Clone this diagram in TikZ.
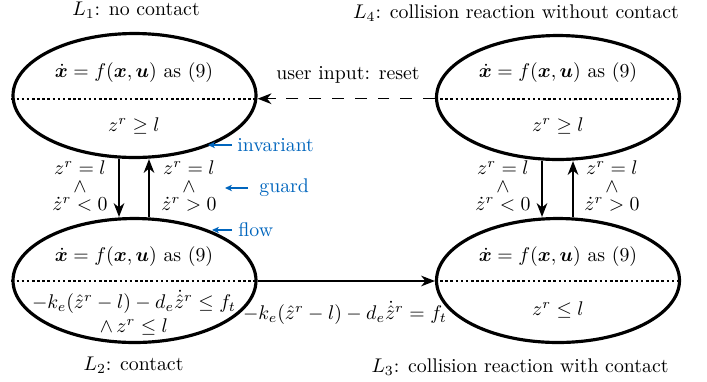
\documentclass[tikz,border=0pt]{standalone}
\usepackage{amsmath,bm}
\usetikzlibrary{arrows.meta,calc,shapes.geometric}
\definecolor{tumblue}{RGB}{0,101,189}
\begin{document}
\begin{tikzpicture}[x=0.505pt,y=-0.505pt,
  loc/.style={ellipse,draw,line width=1.6pt,minimum width=122.7pt,minimum height=62.6pt,inner sep=0pt},
  sepline/.style={line width=0.9pt,dash pattern=on 1.3pt off 1.3pt},
  arr/.style={line width=0.8pt,-{Stealth[length=7pt,width=5.4pt,inset=2.2pt]}},
  dasharr/.style={line width=0.8pt,dash pattern=on 6pt off 5.5pt,-{Stealth[length=7pt,width=5.4pt,inset=2.2pt]}},
  guardlbl/.style={align=center,inner sep=0pt},
  note/.style={text=tumblue,inner sep=0pt,anchor=west},
  notearr/.style={draw=tumblue,line width=0.6pt,-{Stealth[length=3.5pt,width=3.2pt,inset=1pt]}}
]
\useasboundingbox (0,0) rectangle (707,381);

% locations
\node[loc] (L1) at (134.5,95.5) {};
\node[loc] (L4) at (558,97.5) {};
\node[loc] (L2) at (134.5,280.5) {};
\node[loc] (L3) at (558,280.5) {};

\coordinate (L1w) at ($(L1.west)+(0,3.2)$);
\coordinate (L1e) at ($(L1.east)+(0,3.2)$);
\coordinate (L4w) at ($(L4.west)+(0,1.2)$);
\coordinate (L4e) at ($(L4.east)+(0,1.2)$);
\coordinate (L2w) at ($(L2.west)+(0,0.5)$);
\coordinate (L2e) at ($(L2.east)+(0,0.5)$);
\coordinate (L3w) at ($(L3.west)+(0,0.5)$);
\coordinate (L3e) at ($(L3.east)+(0,0.5)$);
\draw[sepline] (L1w) -- (L1e);
\draw[sepline] (L4w) -- (L4e);
\draw[sepline] (L2w) -- (L2e);
\draw[sepline] (L3w) -- (L3e);

% contents
\node (f1) at (134,73) {$\dot{\bm x}=f(\bm x,\bm u)$ as (9)};
\node (i1) at (134,126) {$z^r\geq l$};
\node (f4) at (558,73) {$\dot{\bm x}=f(\bm x,\bm u)$ as (9)};
\node (i4) at (558,126) {$z^r\geq l$};
\node (f2) at (134,257) {$\dot{\bm x}=f(\bm x,\bm u)$ as (9)};
\node[align=center,inner sep=0pt] (i2) at (134,312.5) {$-k_e(\hat z^r-l)-d_e\dot{\hat z}^r\leq f_t$\\$\wedge\, z^r\leq l$};
\node (f3) at (558,257) {$\dot{\bm x}=f(\bm x,\bm u)$ as (9)};
\node (i3) at (558,310) {$z^r\leq l$};

% location labels
\node (n1) at (136,10) {$L_1$: no contact};
\node (n4) at (516,13) {$L_4$: collision reaction without contact};
\node (n2) at (133.5,365) {$L_2$: contact};
\node (n3) at (520,367) {$L_3$: collision reaction with contact};

% transitions
\draw[arr] ($(L1.south)+(-15.5,0)$) -- ($(L2.north)+(-15.5,0)$);
\draw[arr] ($(L2.north)+(14.5,0)$) -- ($(L1.south)+(14.5,0)$);
\draw[arr] ($(L4.south)+(-16,0)$) -- ($(L3.north)+(-16,0)$);
\draw[arr] ($(L3.north)+(15,0)$) -- ($(L4.south)+(15,0)$);
\draw[arr] (L2e) -- (L3w);
\draw[dasharr] (L4w) -- (L1e);

\node (reset) at (348,75) {user input: reset};
\node (t23) at (345,313) {$-k_e(\hat z^r-l)-d_e\dot{\hat z}^r=f_t$};

\node[guardlbl] (g1) at (80,186) {$z^r=l$\\[-3pt]$\wedge$\\[-3pt]$\dot z^r<0$};
\node[guardlbl] (g2) at (189,186) {$z^r=l$\\[-3pt]$\wedge$\\[-3pt]$\dot z^r>0$};
\node[guardlbl] (g3) at (503,186) {$z^r=l$\\[-3pt]$\wedge$\\[-3pt]$\dot z^r<0$};
\node[guardlbl] (g4) at (612,186) {$z^r=l$\\[-3pt]$\wedge$\\[-3pt]$\dot z^r>0$};

% annotations
\node[note] (inv) at (237,145) {invariant};
\node[note] (grd) at (259,188) {guard};
\node[note] (flw) at (238,230) {flow};
\coordinate (invt) at (208,145);
\coordinate (grdt) at (225,188);
\coordinate (flwt) at (212,230);
\draw[notearr] ($(inv.west)+(-5,0)$) -- (invt);
\draw[notearr] ($(grd.west)+(-11,0)$) -- (grdt);
\draw[notearr] ($(flw.west)+(-6,0)$) -- (flwt);
\end{tikzpicture}
\end{document}
